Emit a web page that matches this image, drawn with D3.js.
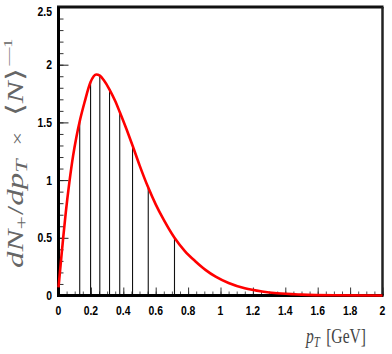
<!DOCTYPE html>
<html><head><meta charset="utf-8">
<script src="https://cdn.jsdelivr.net/npm/d3@7/dist/d3.min.js"></script>
<style>html,body{margin:0;padding:0;background:#fff;}svg{display:block;}</style>
</head><body>
<svg id="c" width="392" height="354"></svg>
<script>
// ---- data ----
const curvePT  = [0.00,0.01,0.02,0.03,0.045,0.067,0.09,0.11,0.131,0.16,0.198,0.233,0.255,0.28,0.315,0.35,0.378,0.42,0.457,0.50,0.554,0.60,0.65,0.716,0.78,0.846,0.907,0.97,1.05,1.15,1.257,1.35,1.5,1.7,2.0];
const curveVal = [0.07,0.22,0.37,0.515,0.72,0.98,1.21,1.37,1.51,1.67,1.85,1.915,1.905,1.865,1.785,1.685,1.59,1.44,1.30,1.13,0.935,0.79,0.655,0.50,0.385,0.295,0.222,0.163,0.108,0.062,0.034,0.019,0.008,0.0025,0.0005];
const linePT  = [0.131,0.198,0.255,0.315,0.378,0.457,0.554,0.716];
const lineVal = [1.51,1.85,1.905,1.785,1.59,1.30,0.935,0.50];
const xTicks = [0,0.2,0.4,0.6,0.8,1,1.2,1.4,1.6,1.8,2];
const xTickLabels = ["0","0.2","0.4","0.6","0.8","1","1.2","1.4","1.6","1.8","2"];
const yTicks = [0,0.5,1,1.5,2,2.5];
const yTickLabels = ["0","0.5","1","1.5","2","2.5"];

const svg = d3.select("#c");
const L=58.5, R=382.5, T=7, B=295.5;
const x = d3.scaleLinear().domain([0,2]).range([L,R]);
const y = d3.scaleLinear().domain([0,2.5]).range([B,T]);

// minor ticks
const xMinor = d3.range(0,2.0001,0.05);
const yMinor = d3.range(0,2.5001,0.1);

const ax = svg.append("g").attr("transform",`translate(0,${B})`);
ax.call(d3.axisBottom(x).tickValues(xMinor).tickSize(-4).tickFormat("")).call(g=>g.select(".domain").remove());
ax.call(g=>g.selectAll("line").attr("stroke","#555"));
const ax2 = svg.append("g").attr("transform",`translate(0,${B})`);
ax2.call(d3.axisBottom(x).tickValues(xTicks).tickSize(-8).tickFormat("")).call(g=>g.select(".domain").remove());
ax2.selectAll("line").attr("stroke","#333");

const ay = svg.append("g").attr("transform",`translate(${L},0)`);
ay.call(d3.axisLeft(y).tickValues(yMinor).tickSize(-5).tickFormat("")).call(g=>g.select(".domain").remove());
ay.selectAll("line").attr("stroke","#333");
const ay2 = svg.append("g").attr("transform",`translate(${L},0)`);
ay2.call(d3.axisLeft(y).tickValues(yTicks).tickSize(-10).tickFormat("")).call(g=>g.select(".domain").remove());
ay2.selectAll("line").attr("stroke","#222");

// vertical lines
svg.append("g").selectAll("line").data(linePT).join("line")
  .attr("x1",d=>x(d)).attr("x2",d=>x(d))
  .attr("y1",y(0)).attr("y2",(d,i)=>y(lineVal[i]))
  .attr("stroke","#111").attr("stroke-width",1.1);

// frame
svg.append("line").attr("x1",L-1.5).attr("x2",R+1).attr("y1",T).attr("y2",T).attr("stroke","#111").attr("stroke-width",3);
svg.append("line").attr("x1",R).attr("x2",R).attr("y1",T).attr("y2",B).attr("stroke","#222").attr("stroke-width",2.5);
svg.append("line").attr("x1",L).attr("x2",L).attr("y1",T).attr("y2",B+1.5).attr("stroke","#000").attr("stroke-width",3);
svg.append("line").attr("x1",L-1.5).attr("x2",R+1).attr("y1",B).attr("y2",B).attr("stroke","#000").attr("stroke-width",3);

// curve
const pts = curvePT.map((p,i)=>[p,curveVal[i]]);
svg.append("path").datum(pts)
  .attr("d",d3.line().x(d=>x(d[0])).y(d=>y(d[1])).curve(d3.curveMonotoneX))
  .attr("fill","none").attr("stroke","#ff0000").attr("stroke-width",2.6);

// tick labels
const lf = "'Liberation Sans', Arial, sans-serif";
svg.append("g").selectAll("text").data(xTicks).join("text")
  .attr("transform",d=>`translate(${x(d)},314.5) scale(0.8,1)`)
  .attr("text-anchor","middle").attr("font-family",lf).attr("font-weight","bold")
  .attr("font-size",13).attr("fill","#000").text((d,i)=>xTickLabels[i]);
svg.append("g").selectAll("text").data(yTicks).join("text")
  .attr("transform",(d,i)=>`translate(52,${y(d)+(i===yTicks.length-1?4:0)}) scale(0.8,1)`)
  .attr("dy","0.35em")
  .attr("text-anchor","end").attr("font-family",lf).attr("font-weight","bold")
  .attr("font-size",13).attr("fill","#000").text((d,i)=>yTickLabels[i]);

// x title
const sf = "'Liberation Serif','Times New Roman',serif";
const xt = svg.append("text").attr("transform","translate(366,343) scale(0.78,1)")
  .attr("text-anchor","end").attr("font-family",sf).attr("font-size",20).attr("fill","#444");
xt.append("tspan").attr("font-style","italic").text("p");
xt.append("tspan").attr("font-style","italic").attr("font-size",14).attr("dy",4).text("T");
xt.append("tspan").attr("dy",-4).attr("dx",8).text("[GeV]");

// y title
const yt = svg.append("text").attr("transform","translate(23,268) rotate(-90) scale(1,0.72)")
  .attr("font-family",sf).attr("font-size",33).attr("fill","#666");
yt.append("tspan").attr("font-style","italic").text("dN");
yt.append("tspan").attr("font-size",24).attr("dy",6).text("+");
yt.append("tspan").attr("dy",-6).attr("dx",1).text("/");
yt.append("tspan").attr("font-style","italic").text("dp");
yt.append("tspan").attr("font-style","italic").attr("font-size",24).attr("dy",6).text("T");
yt.append("tspan").attr("font-size",24).attr("dy",-6).attr("dx",14).text("×");
yt.append("tspan").attr("dx",16).text("⟨");
yt.append("tspan").attr("font-style","italic").text("N");
yt.append("tspan").text("⟩");
yt.append("tspan").attr("font-size",18).attr("dy",-15).attr("dx",3).text("—1");
</script>
</body></html>
